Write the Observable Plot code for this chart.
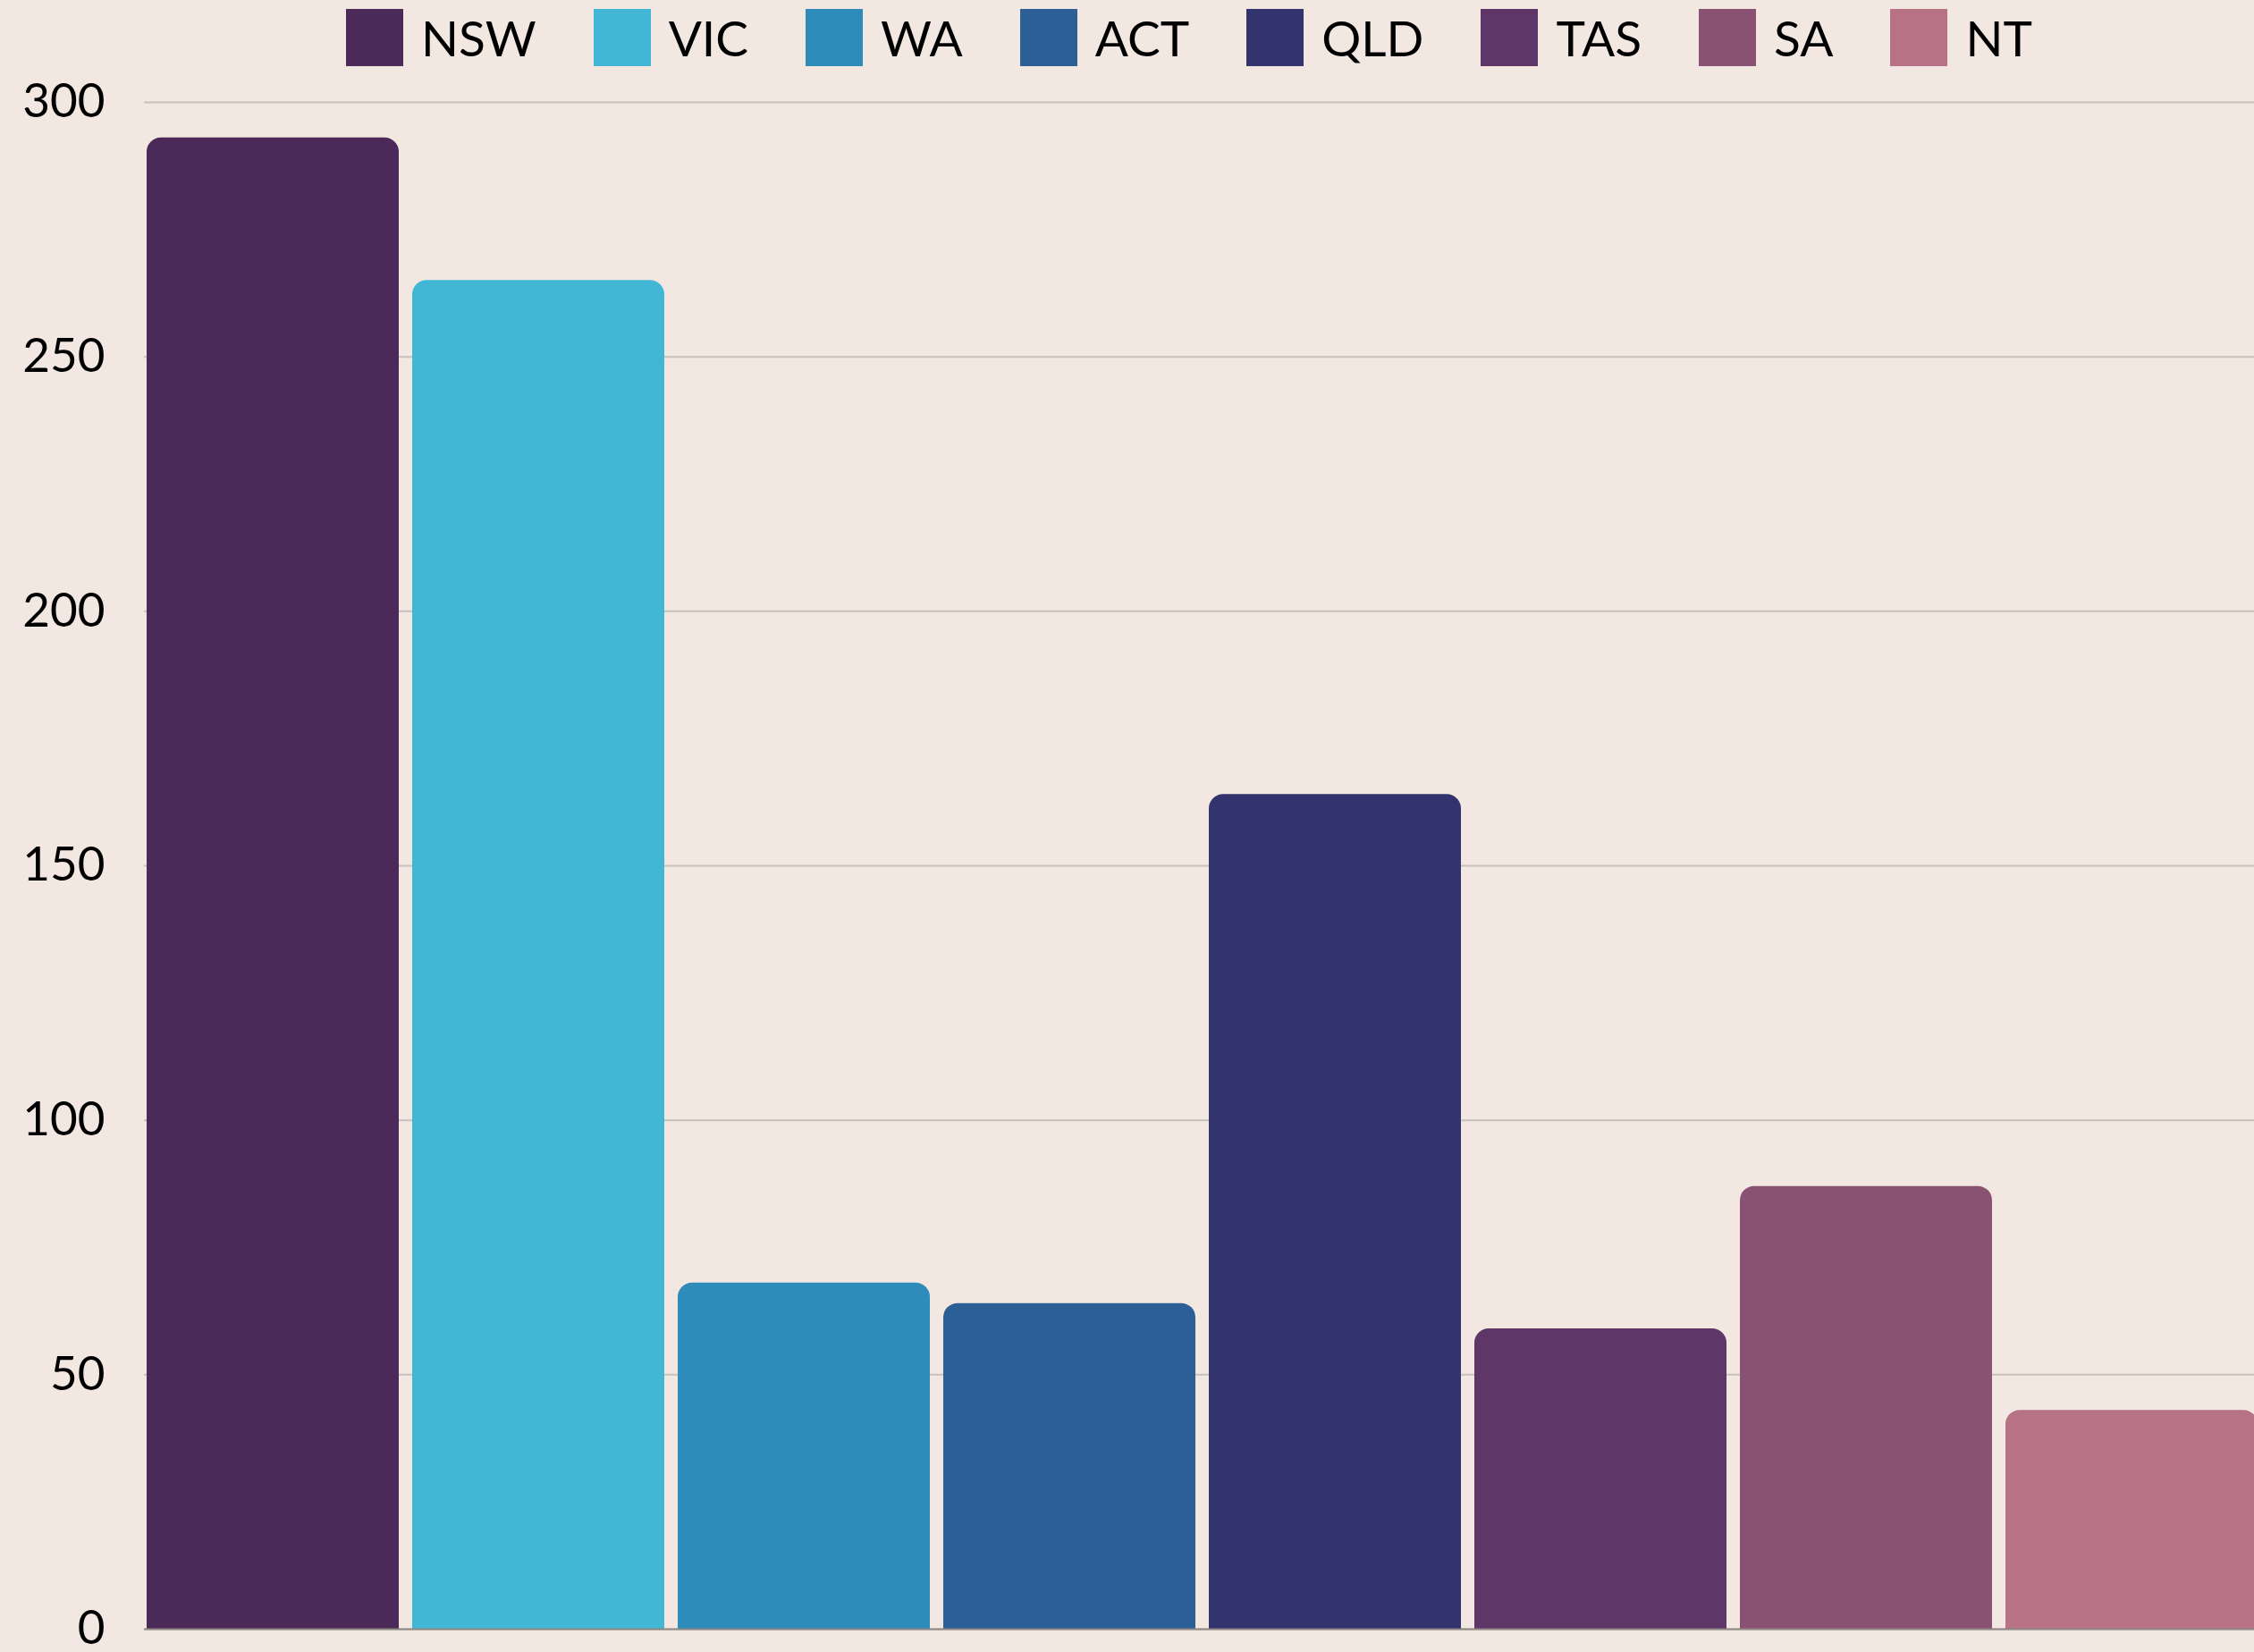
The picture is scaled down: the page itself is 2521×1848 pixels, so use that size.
<!DOCTYPE html>
<html><head><meta charset="utf-8">
<script src="https://cdn.jsdelivr.net/npm/d3@7"></script>
<script src="https://cdn.jsdelivr.net/npm/@observablehq/plot@0.6"></script>
<style>
html,body{margin:0;padding:0;background:#f2e8e1;overflow:hidden;font-family:Lato,sans-serif;}
#wrap{width:2521px;height:1848px;overflow:hidden;position:relative;}
#legend{height:84px;display:flex;justify-content:flex-start;align-items:flex-start;padding-left:387px;box-sizing:border-box;}
.item{display:flex;align-items:center;margin:10px 64px 0 0;}
.sw{width:64px;height:64px;margin-right:20px;}
.lab{font-size:55px;color:#000;line-height:64px;}
</style></head>
<body><div id="wrap"><div id="legend"></div><div id="chart"></div></div>
<script>
const states = ["NSW","VIC","WA","ACT","QLD","TAS","SA","NT"];
const values = [293, 265, 68, 64, 164, 59, 87, 43];
const colors = ["#4b2a59","#42b6d5","#2e8bba","#2c5f96","#33336e","#5e3768","#8a5272","#b87285"];
const yTicks = [0,50,100,150,200,250,300];

const data = states.map((s,i)=>({state:s, value:values[i]}));

const legend = document.getElementById("legend");
states.forEach((s,i)=>{
  const it=document.createElement("div");it.className="item";
  const sw=document.createElement("div");sw.className="sw";sw.style.background=colors[i];
  const lb=document.createElement("span");lb.className="lab";lb.textContent=s;
  it.appendChild(sw);it.appendChild(lb);legend.appendChild(it);
});

const chart = Plot.plot({
  width: 2528,
  height: 1764,
  marginTop: 30,
  marginBottom: 26,
  marginLeft: 161,
  marginRight: 0,
  style: {background:"#f2e8e1", fontFamily:"Lato, sans-serif", fontSize:"53px", color:"#000", overflow:"visible", maxWidth:"none"},
  x: {domain: states, paddingInner: 0.05, paddingOuter: 0, axis: null},
  y: {domain: [0,300], ticks: yTicks, tickSize: 0, tickPadding: 44, label: null},
  color: {domain: states, range: colors},
  marks: [
    Plot.gridY(yTicks, {stroke:"#c7c1bd", strokeOpacity:1, strokeWidth:2}),
    Plot.barY(data, {x:"state", y:"value", fill:"state", ry1:16}),
    Plot.ruleY([0], {stroke:"#8f8884", strokeWidth:2})
  ]
});
document.getElementById("chart").appendChild(chart);
</script></body></html>
